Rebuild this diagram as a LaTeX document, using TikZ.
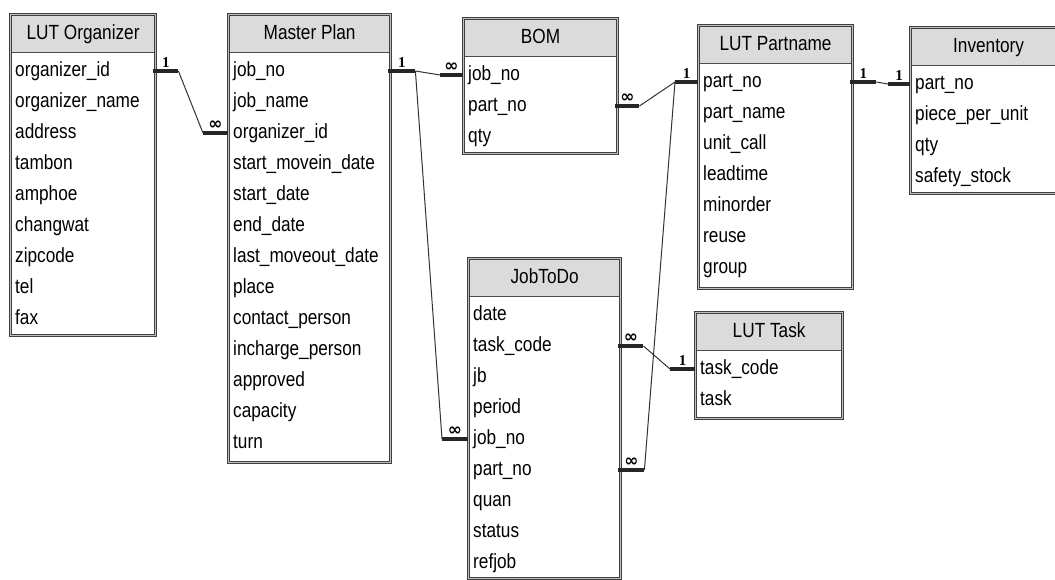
\documentclass[tikz,border=0pt]{standalone}
\usepackage{fontspec}
\setmainfont{Liberation Sans}[FakeStretch=0.84]
\newfontfamily\cardfont{Liberation Serif}
\newfontfamily\manyfont{DejaVu Sans}
\usetikzlibrary{calc}

% one table of the relationships window: name, left, right, top, bottom, title, fields
\newcommand{\erdtable}[7]{%
    \pgfmathsetmacro{\tabw}{#3-#2}%
    \pgfmathsetmacro{\rowtw}{#3-#2-12}%
    \node[tabletitle, minimum width=\tabw pt, anchor=north west] (#1-title) at (#2,#4) {#6};
    \node[tablebox, minimum width=\tabw pt, minimum height={(#5-#4)*1pt}, anchor=north west] (#1) at (#2,#4) {};
    \foreach \f [count=\i] in {#7}
        \node[fieldrow, text width=\rowtw pt, anchor=west] (#1-\i) at (#2,{#4+26+31*\i}) {\f};
}
% the "many" end mark
\newcommand{\many}{{\manyfont\bfseries\fontsize{17}{17}\selectfont ∞}}

\begin{document}
\begin{tikzpicture}[x=1pt, y=-1pt,
                tablebox/.style={rectangle, draw=black!75, line width=1pt, double=gray!50, double distance=1.8pt, inner sep=0pt},
                tabletitle/.style={rectangle, fill=gray!28, draw=black!70, line width=1.2pt, minimum height=38pt, inner sep=0pt, text height=15pt, text depth=4pt, font=\fontsize{20.5}{24}\selectfont},
                fieldrow/.style={rectangle, inner xsep=5pt, inner ysep=0pt, align=left, text height=15pt, text depth=5pt, font=\fontsize{20.5}{24}\selectfont},
                relthin/.style={draw=black!80, line width=1pt},
                relend/.style={draw=black!85, line width=3.4pt},
                card/.style={above, inner sep=1.5pt, font=\cardfont\bfseries\fontsize{15}{15}\selectfont}
            ]
                \clip (0,0) rectangle (1055,579);

                \erdtable{org}{10}{155}{14}{335}{LUT Organizer}{organizer\_id, organizer\_name, address, tambon, amphoe, changwat, zipcode, tel, fax}
                \erdtable{mp}{228}{390}{14}{462}{Master Plan}{job\_no, job\_name, organizer\_id, start\_movein\_date, start\_date, end\_date, last\_moveout\_date, place, contact\_person, incharge\_person, approved, capacity, turn}
                \erdtable{bom}{463}{617}{18}{153}{BOM}{job\_no, part\_no, qty}
                \erdtable{part}{698}{852}{25}{288}{LUT Partname}{part\_no, part\_name, unit\_call, leadtime, minorder, reuse, group}
                \erdtable{inv}{910}{1066}{27}{193}{Inventory}{part\_no, piece\_per\_unit, qty, safety\_stock}
                \erdtable{jtd}{468}{620}{258}{578}{JobToDo}{date, task\_code, jb, period, job\_no, part\_no, quan, status, refjob}
                \erdtable{task}{695}{842}{312}{418}{LUT Task}{task\_code, task}

                % LUT Organizer -- Master Plan
                \draw[relend] (org-1.east) -- node[card]{1} ++(25,0) coordinate (orgA);
                \draw[relend] (mp-3.west) -- node[card]{\many} ++(-25,0) coordinate (mpA);
                \draw[relthin] (orgA) -- (mpA);

                % Master Plan -- BOM, Master Plan -- JobToDo
                \draw[relend] (mp-1.east) -- node[card]{1} ++(27,0) coordinate (mpB);
                \draw[relend] (bom-1.west) -- node[card]{\many} ++(-23,0) coordinate (bomA);
                \draw[relthin] (mpB) -- (bomA);
                \draw[relend] (jtd-5.west) -- node[card]{\many} ++(-26,0) coordinate (jtdA);
                \draw[relthin] (mpB) -- (jtdA);

                % BOM -- LUT Partname, LUT Partname -- JobToDo
                \draw[relend] (bom-2.east) -- node[card]{\many} ++(24,0) coordinate (bomB);
                \draw[relend] (part-1.west) -- node[card]{1} ++(-23,0) coordinate (partA);
                \draw[relthin] (bomB) -- (partA);
                \draw[relend] (jtd-6.east) -- node[card]{\many} ++(26,0) coordinate (jtdB);
                \draw[relthin] (partA) -- (jtdB);

                % JobToDo -- LUT Task
                \draw[relend] (jtd-2.east) -- node[card]{\many} ++(25,0) coordinate (jtdC);
                \draw[relend] (task-1.west) -- node[card]{1} ++(-25,0) coordinate (taskA);
                \draw[relthin] (jtdC) -- (taskA);

                % LUT Partname -- Inventory
                \draw[relend] (part-1.east) -- node[card]{1} ++(26,0) coordinate (partB);
                \draw[relend] (inv-1.west) -- node[card]{1} ++(-22,0) coordinate (invA);
                \draw[relthin] (partB) -- (invA);
            \end{tikzpicture}
\end{document}
